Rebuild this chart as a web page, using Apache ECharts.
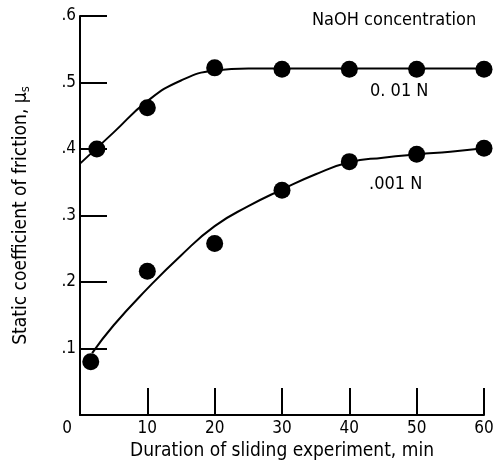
<!DOCTYPE html>
<html>
<head>
<meta charset="utf-8">
<script src="https://cdn.jsdelivr.net/npm/echarts@6/dist/echarts.min.js"></script>
<style>
  html, body { margin: 0; padding: 0; background: #fff; }
  #chart { width: 495px; height: 461px; }
</style>
</head>
<body>
<div id="chart"></div>
<script>
// measured points, minutes vs static friction
const minutesHigh = [2.5, 10, 20, 30, 40, 50, 60]
const frictionHigh = [0.40, 0.462, 0.522, 0.52, 0.52, 0.52, 0.52]
const minutesLow = [1.6, 10, 20, 30, 40, 50, 60]
const frictionLow = [0.08, 0.216, 0.258, 0.338, 0.381, 0.392, 0.401]

// faired curves
const curveHighX = [0, 5, 10, 15, 20, 25, 30, 40, 50, 60]
const curveHighY = [0.378, 0.425, 0.472, 0.503, 0.518, 0.521, 0.521, 0.521, 0.521, 0.521]
const curveLowX = [1.8, 5, 10, 15, 20, 25, 30, 35, 40, 45, 50, 55, 60]
const curveLowY = [0.093, 0.135, 0.19, 0.24, 0.284, 0.314, 0.339, 0.362, 0.38, 0.387, 0.392, 0.396, 0.401]

const yTicks = ['.1', '.2', '.3', '.4', '.5', '.6']

const pair = (xs, ys) => xs.map((x, i) => [x, ys[i]])

const font = '"DejaVu Sans Condensed", "Liberation Sans Narrow", sans-serif'
const fs = 17
const titleFs = 19

const chart = echarts.init(document.getElementById('chart'))

chart.setOption({
  animation: false,
  textStyle: { fontFamily: font, color: '#000' },
  grid: { left: 80, right: 11, top: 16, bottom: 46, outerBoundsMode: 'none' },
  xAxis: {
    type: 'value',
    min: 0,
    max: 60,
    interval: 10,
    name: 'Duration of sliding experiment, min',
    nameLocation: 'middle',
    nameGap: 27,
    nameTextStyle: { fontFamily: font, fontSize: titleFs, color: '#000' },
    axisLine: { lineStyle: { color: '#000', width: 2 } },
    axisTick: { inside: true, length: 27, lineStyle: { color: '#000', width: 2 } },
    axisLabel: {
      fontFamily: font,
      fontSize: fs,
      color: '#000',
      margin: 5,
      formatter: v => (v === 0 ? '{z|0}' : String(v)),
      rich: { z: { fontFamily: font, fontSize: fs, color: '#000', padding: [0, 26, 0, 0] } }
    },
    splitLine: { show: false }
  },
  yAxis: {
    type: 'value',
    min: 0,
    max: 0.6,
    interval: 0.1,
    name: 'Static coefficient of friction, {m|\u03bc}{s|s}',
    nameLocation: 'middle',
    nameGap: 48,
    nameTextStyle: {
      fontFamily: font,
      fontSize: titleFs,
      color: '#000',
      rich: {
        m: { fontFamily: font, fontSize: titleFs, color: '#000' },
        s: { fontFamily: font, fontSize: 13, color: '#000', verticalAlign: 'bottom', padding: [9, 0, 0, 0] }
      }
    },
    axisLine: { lineStyle: { color: '#000', width: 2 } },
    axisTick: { inside: true, length: 27, lineStyle: { color: '#000', width: 2 } },
    axisLabel: {
      fontFamily: font,
      fontSize: fs,
      color: '#000',
      margin: 4,
      showMinLabel: false,
      formatter: v => yTicks[Math.round(v * 10) - 1] || ''
    },
    splitLine: { show: false }
  },
  graphic: [
    { type: 'text', left: 312, top: 11, style: { text: 'NaOH concentration', font: '18px ' + font, fill: '#000' } },
    { type: 'text', left: 370, top: 82, style: { text: '0. 01 N', font: '18px ' + font, fill: '#000' } },
    { type: 'text', left: 369, top: 175, style: { text: '.001 N', font: '18px ' + font, fill: '#000' } }
  ],
  series: [
    {
      type: 'line',
      data: pair(curveHighX, curveHighY),
      smooth: 0.5,
      showSymbol: false,
      lineStyle: { color: '#000', width: 2 }
    },
    {
      type: 'line',
      data: pair(curveLowX, curveLowY),
      smooth: 0.5,
      showSymbol: false,
      lineStyle: { color: '#000', width: 2 }
    },
    {
      type: 'scatter',
      data: pair(minutesHigh, frictionHigh),
      symbolSize: 17,
      itemStyle: { color: '#000', opacity: 1 }
    },
    {
      type: 'scatter',
      data: pair(minutesLow, frictionLow),
      symbolSize: 17,
      itemStyle: { color: '#000', opacity: 1 }
    }
  ]
})
</script>
</body>
</html>
